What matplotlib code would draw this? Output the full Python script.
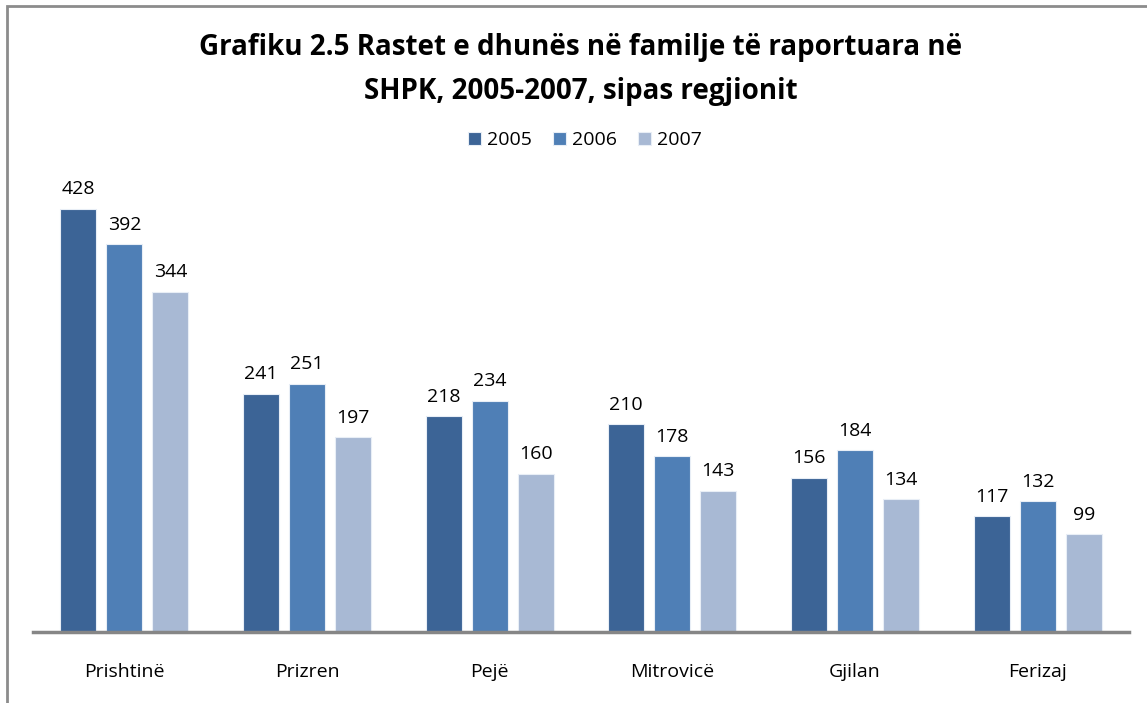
import numpy as np
import matplotlib
matplotlib.use('Agg')
import matplotlib.pyplot as plt
from matplotlib.patches import Rectangle

regions = ['Prishtinë', 'Prizren', 'Pejë', 'Mitrovicë', 'Gjilan', 'Ferizaj']
years = ['2005', '2006', '2007']
cases_2005 = [428, 241, 218, 210, 156, 117]
cases_2006 = [392, 251, 234, 178, 184, 132]
cases_2007 = [344, 197, 160, 143, 134, 99]

colors = ['#3C6496', '#4F7FB6', '#A8B9D4']
plt.rcParams['font.family'] = ['Open Sans', 'DejaVu Sans']

fig = plt.figure(figsize=(11.47, 7.03), dpi=100)
ax = fig.add_axes([0.0288, 0.101, 0.9555, 0.633])

x = np.arange(len(regions))
width = 0.197
step = 0.252
series = [cases_2005, cases_2006, cases_2007]
for i, (vals, col, yr) in enumerate(zip(series, colors, years)):
    pos = x + (i - 1) * step
    bars = ax.bar(pos, vals, width, color=col, edgecolor='#E8EEF6',
                  linewidth=0.8, label=yr, zorder=2)
    for b, v in zip(bars, vals):
        ax.annotate(str(v), (b.get_x() + b.get_width() / 2, v),
                    xytext=(0, 7.5), textcoords='offset points',
                    ha='center', va='bottom', fontsize=14)

ax.set_xlim(-0.5, len(regions) - 0.5)
ax.set_ylim(0, 450)
ax.set_yticks([])
ax.set_xticks(x)
ax.set_xticklabels(regions, fontsize=14)
ax.tick_params(axis='x', length=0, pad=22)
for s in ['top', 'right', 'left']:
    ax.spines[s].set_visible(False)
ax.spines['bottom'].set_color('#868686')
ax.spines['bottom'].set_linewidth(2.5)
ax.spines['bottom'].set_zorder(3)

fig.text(0.506, 0.932, 'Grafiku 2.5 Rastet e dhunës në familje të raportuara në',
         ha='center', va='center', fontsize=20, fontweight='bold')
fig.text(0.506, 0.870, 'SHPK, 2005-2007, sipas regjionit',
         ha='center', va='center', fontsize=20, fontweight='bold')

leg = fig.legend(loc='center', bbox_to_anchor=(0.51, 0.801), ncol=3,
                 frameon=False, fontsize=14, handlelength=0.65,
                 handleheight=0.65, handletextpad=0.3, columnspacing=1.1)

# outer chart border (only top and left visible in the crop)
fig.patches.append(Rectangle((7 / 1147, -0.05), 1.2, 1 - 6 / 703 + 0.05,
                             transform=fig.transFigure, fill=False,
                             edgecolor='#8C8C8C', linewidth=2))

fig.savefig('out.png', dpi=100)
